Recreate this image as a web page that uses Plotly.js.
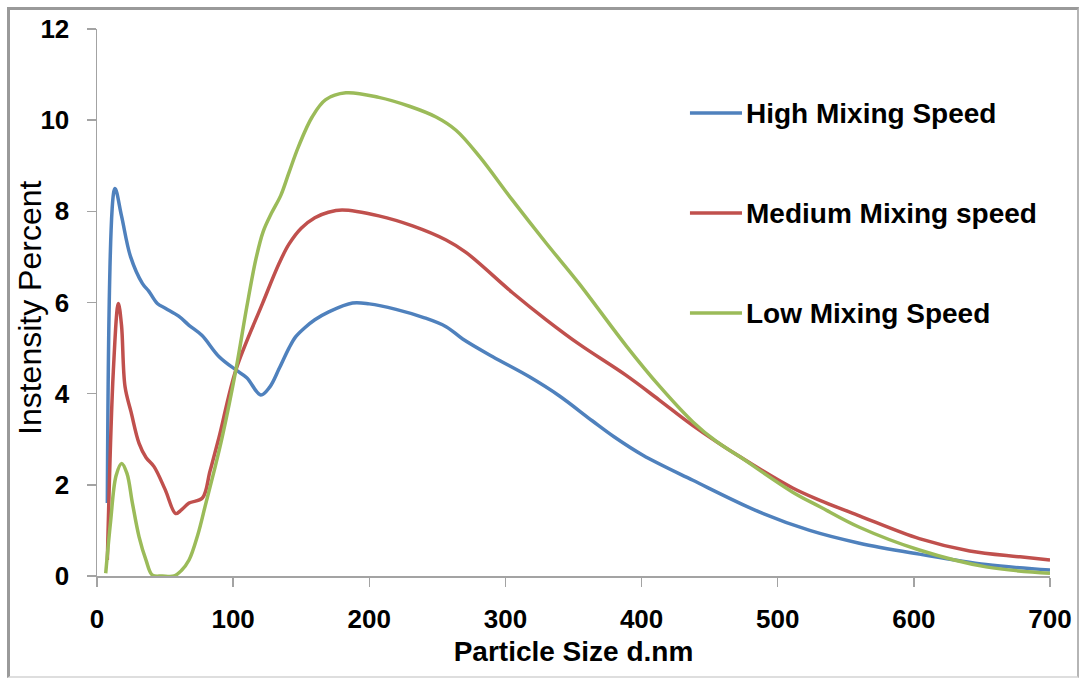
<!DOCTYPE html>
<html>
<head>
<meta charset="utf-8">
<script src="https://cdn.plot.ly/plotly-3.0.1.min.js"></script>
<style>
  html, body { margin: 0; padding: 0; background: #ffffff; }
  #wrap { position: relative; width: 1082px; height: 679px; }
  #chart { position: absolute; left: 0; top: 0; width: 1082px; height: 679px; }
  #frame {
    position: absolute; left: 7px; top: 7px; right: 3px; bottom: 1px;
    box-sizing: border-box;
    border-left: 3px solid #9a9a9a; border-top: 3px solid #9a9a9a;
    border-right: 2px solid #b5b5b5; border-bottom: 2px solid #dedede;
    pointer-events: none;
  }
</style>
</head>
<body>
<div id="wrap">
  <div id="chart"></div>
  <div id="frame"></div>
</div>
<script>
// Particle size distributions (intensity %) for three mixing speeds
const seriesNames = ["High Mixing Speed", "Medium Mixing speed", "Low Mixing Speed"];
const seriesColors = ["#4F81BD", "#C0504D", "#9BBB59"];

const highX = [7.6, 13.2, 18, 24.7, 33.3, 38, 44.3, 50.5, 60, 67.6, 77, 89.7, 102, 110, 120.3, 127, 133.8, 141, 146, 152, 160, 170.6, 187.7, 200, 219.6, 240, 256.4, 268.6, 290.7, 317.6, 339.7, 364, 380, 401, 437.7, 486.8, 523.5, 560, 604, 653, 700];
const highY = [1.6, 8.5, 7.9, 7.0, 6.42, 6.25, 5.98, 5.87, 5.7, 5.5, 5.28, 4.81, 4.52, 4.35, 3.97, 4.15, 4.55, 5.0, 5.25, 5.43, 5.62, 5.8, 5.99, 5.97, 5.85, 5.67, 5.47, 5.2, 4.81, 4.37, 3.95, 3.4, 3.05, 2.65, 2.1, 1.4, 1.0, 0.72, 0.48, 0.25, 0.13];

const mediumX = [7.6, 12, 15.7, 18, 20.6, 25, 30.9, 36, 41.9, 50, 57.8, 62, 67.6, 77.4, 83, 89.7, 102, 121.6, 133.8, 141, 150, 160, 170, 180, 207, 231.8, 256.4, 271, 305, 330, 354.4, 388.7, 413, 437.7, 472, 511, 531, 560, 604, 641, 678, 700];
const mediumY = [0.35, 4.5, 5.98, 5.5, 4.15, 3.6, 2.91, 2.6, 2.4, 1.9, 1.37, 1.45, 1.6, 1.71, 2.3, 3.05, 4.52, 5.98, 6.86, 7.28, 7.63, 7.86, 7.98, 8.03, 7.9, 7.68, 7.37, 7.1, 6.22, 5.62, 5.08, 4.4, 3.86, 3.3, 2.62, 1.93, 1.66, 1.32, 0.82, 0.55, 0.42, 0.35];

const lowX = [6.4, 10, 14, 18.1, 22, 26, 30.9, 36, 40.7, 48, 56.6, 62, 67.6, 74, 80, 86, 92, 102, 110, 116.7, 122, 128, 135, 141, 148, 158, 168, 182.8, 207, 230, 249, 263.7, 281, 305, 330, 354, 388.7, 413, 437.7, 455, 472, 511, 531, 560, 604, 653, 700];
const lowY = [0.06, 1.2, 2.2, 2.47, 2.25, 1.6, 0.86, 0.35, 0.02, 0.0, 0.0, 0.12, 0.35, 0.9, 1.6, 2.3, 3.05, 4.52, 5.9, 6.95, 7.55, 7.95, 8.35, 8.85, 9.42, 10.07, 10.45, 10.6, 10.5, 10.3, 10.07, 9.78, 9.2, 8.25, 7.3, 6.42, 5.05, 4.17, 3.38, 2.95, 2.62, 1.84, 1.52, 1.07, 0.57, 0.2, 0.06];

const xTicks = [0, 100, 200, 300, 400, 500, 600, 700];
const yTicks = [0, 2, 4, 6, 8, 10, 12];

const xs = [highX, mediumX, lowX];
const ys = [highY, mediumY, lowY];

const traces = seriesNames.map((name, i) => ({
  type: "scatter",
  mode: "lines",
  name: name,
  x: xs[i],
  y: ys[i],
  line: { color: seriesColors[i], width: 3.5, shape: "spline", smoothing: 1.0 },
  showlegend: false,
  hoverinfo: "x+y+name"
}));

// Hand-placed key: a short coloured stroke followed by the series name
const keyTop = [0.8464, 0.6636, 0.4808];
const keyShapes = seriesNames.map((name, i) => ({
  type: "line", xref: "paper", yref: "paper",
  x0: 0.6222, x1: 0.6768, y0: keyTop[i], y1: keyTop[i],
  line: { color: seriesColors[i], width: 3.5 }
}));
const keyLabels = seriesNames.map((name, i) => ({
  xref: "paper", yref: "paper",
  x: 0.6785, y: keyTop[i],
  xanchor: "left", yanchor: "middle",
  text: name, showarrow: false,
  font: { family: "Liberation Sans, Arial, sans-serif", size: 28, color: "#000000", weight: "bold" }
}));

// Rotated y-axis title, set as an annotation so it can sit close to the tick labels
const yTitle = {
  xref: "paper", yref: "paper",
  x: -0.0703, y: 0.49,
  xanchor: "center", yanchor: "middle",
  textangle: -90,
  text: "Instensity Percent", showarrow: false,
  font: { family: "Liberation Sans, Arial, sans-serif", size: 32, color: "#000000" }
};

const tickFont = { family: "Liberation Sans, Arial, sans-serif", size: 26, color: "#000000", weight: "bold" };
const axisGray = "#a3a3a3";

const layout = {
  width: 1082,
  height: 679,
  margin: { l: 97, r: 32, t: 29, b: 103, pad: 0 },
  paper_bgcolor: "#ffffff",
  plot_bgcolor: "#ffffff",
  showlegend: false,
  xaxis: {
    range: [0, 700],
    tickvals: xTicks,
    ticktext: xTicks.map(String),
    showgrid: false,
    zeroline: false,
    showline: true,
    linecolor: axisGray,
    linewidth: 1.5,
    ticks: "outside",
    ticklen: 9,
    tickwidth: 1.5,
    tickcolor: axisGray,
    ticklabelstandoff: 10,
    tickfont: tickFont,
    automargin: false,
    title: {
      text: "Particle Size d.nm",
      font: { family: "Liberation Sans, Arial, sans-serif", size: 28, color: "#000000", weight: "bold" },
      standoff: 8
    }
  },
  yaxis: {
    range: [0, 12],
    tickvals: yTicks,
    ticktext: yTicks.map(String),
    showgrid: false,
    zeroline: false,
    showline: true,
    linecolor: axisGray,
    linewidth: 1.5,
    ticks: "outside",
    ticklen: 9,
    tickwidth: 1.5,
    tickcolor: axisGray,
    ticklabelstandoff: 12,
    tickfont: tickFont,
    automargin: false
  },
  shapes: keyShapes,
  annotations: keyLabels.concat([yTitle])
};

Plotly.newPlot("chart", traces, layout, { displayModeBar: false, staticPlot: true });
</script>
</body>
</html>
